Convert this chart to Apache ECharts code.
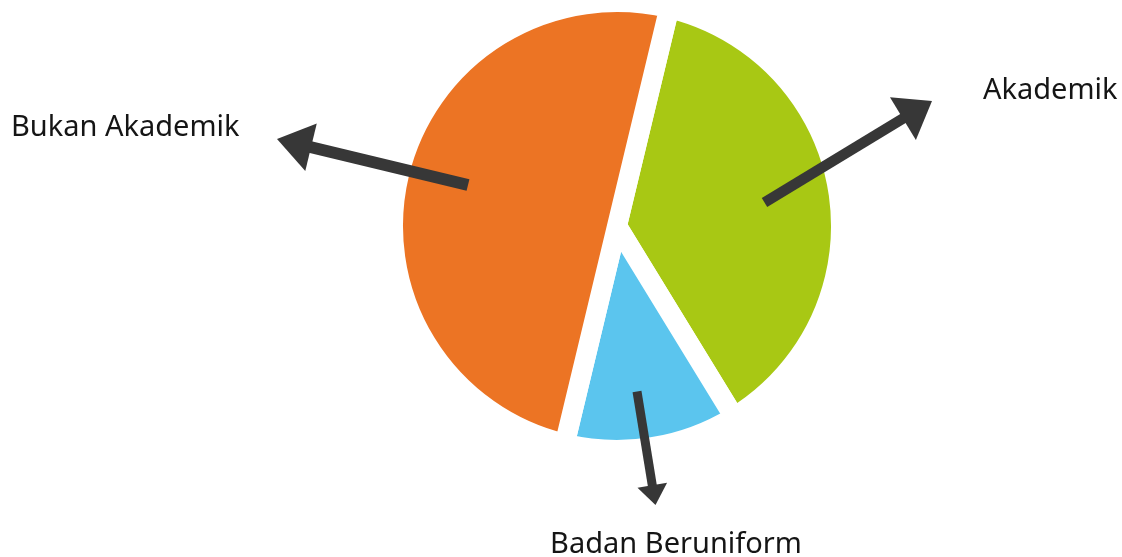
<!DOCTYPE html>
<html><head><meta charset="utf-8">
<script src="https://cdn.jsdelivr.net/npm/echarts@6/dist/echarts.min.js"></script>
<style>html,body{margin:0;padding:0;background:#fff}#c{width:1122px;height:557px}</style>
</head><body><div id="c"></div>
<script>
// Data
const categories = ['Akademik', 'Badan Beruniform', 'Bukan Akademik'];
const values = [37.5, 12.5, 50];
const colors = ['#A8C814', '#5BC5EE', '#EC7424'];

// Label placement (annotation styling)
const labelPos = [
  { x: 983, y: 91, align: 'left' },
  { x: 676, y: 545, align: 'center' },
  { x: 11, y: 128, align: 'left' }
];
// Arrow annotations: tail/tip offsets relative to pie center
const arrows = [
  { tail: [147.5, -23.5], tip: [315, -125], headLen: 34, headW: 50, lw: 10.5 },
  { tail: [20, 165.5], tip: [38.5, 279], headLen: 20, headW: 30, lw: 9 },
  { tail: [-149, -41], tip: [-340, -87], headLen: 35, headW: 49, lw: 12 }
];

const chart = echarts.init(document.getElementById('c'), null, { renderer: 'canvas' });
const option = {
  animation: false,
  backgroundColor: '#ffffff',
  series: [{
    type: 'pie',
    center: [617, 226],
    radius: 224,
    startAngle: 76.5,
    clockwise: true,
    silent: true,
    avoidLabelOverlap: false,
    itemStyle: { borderColor: '#ffffff', borderWidth: 20 },
    emphasis: { disabled: true },
    label: {
      show: true,
      position: 'outside',
      formatter: '{b}',
      fontFamily: 'Noto Sans',
      fontSize: 29,
      color: '#151515'
    },
    labelLine: { show: false },
    labelLayout: function (p) {
      const lp = labelPos[p.dataIndex];
      return { x: lp.x, y: lp.y, align: lp.align, verticalAlign: 'middle' };
    },
    data: categories.map((c, i) => ({ name: c, value: values[i], itemStyle: { color: colors[i] } }))
  }]
};
chart.setOption(option);

// Build arrows from pie center
const cx = 617, cy = 226;
const arrowColor = '#373737';
const graphics = [];
arrows.forEach(a => {
  const tx = cx + a.tail[0], ty = cy + a.tail[1];
  const px = cx + a.tip[0], py = cy + a.tip[1];
  const dx = px - tx, dy = py - ty;
  const L = Math.hypot(dx, dy);
  const ux = dx / L, uy = dy / L;
  const bx = px - ux * a.headLen, by = py - uy * a.headLen;
  const nx = -uy, ny = ux;
  graphics.push({
    type: 'line', silent: true, z: 100, zlevel: 1,
    shape: { x1: tx, y1: ty, x2: bx + ux * 2, y2: by + uy * 2 },
    style: { stroke: arrowColor, lineWidth: a.lw, lineCap: 'butt' }
  });
  graphics.push({
    type: 'polygon', silent: true, z: 100, zlevel: 1,
    shape: { points: [[px, py], [bx + nx * a.headW / 2, by + ny * a.headW / 2], [bx - nx * a.headW / 2, by - ny * a.headW / 2]] },
    style: { fill: arrowColor }
  });
});
chart.setOption({ graphic: graphics });
</script>
</body></html>
